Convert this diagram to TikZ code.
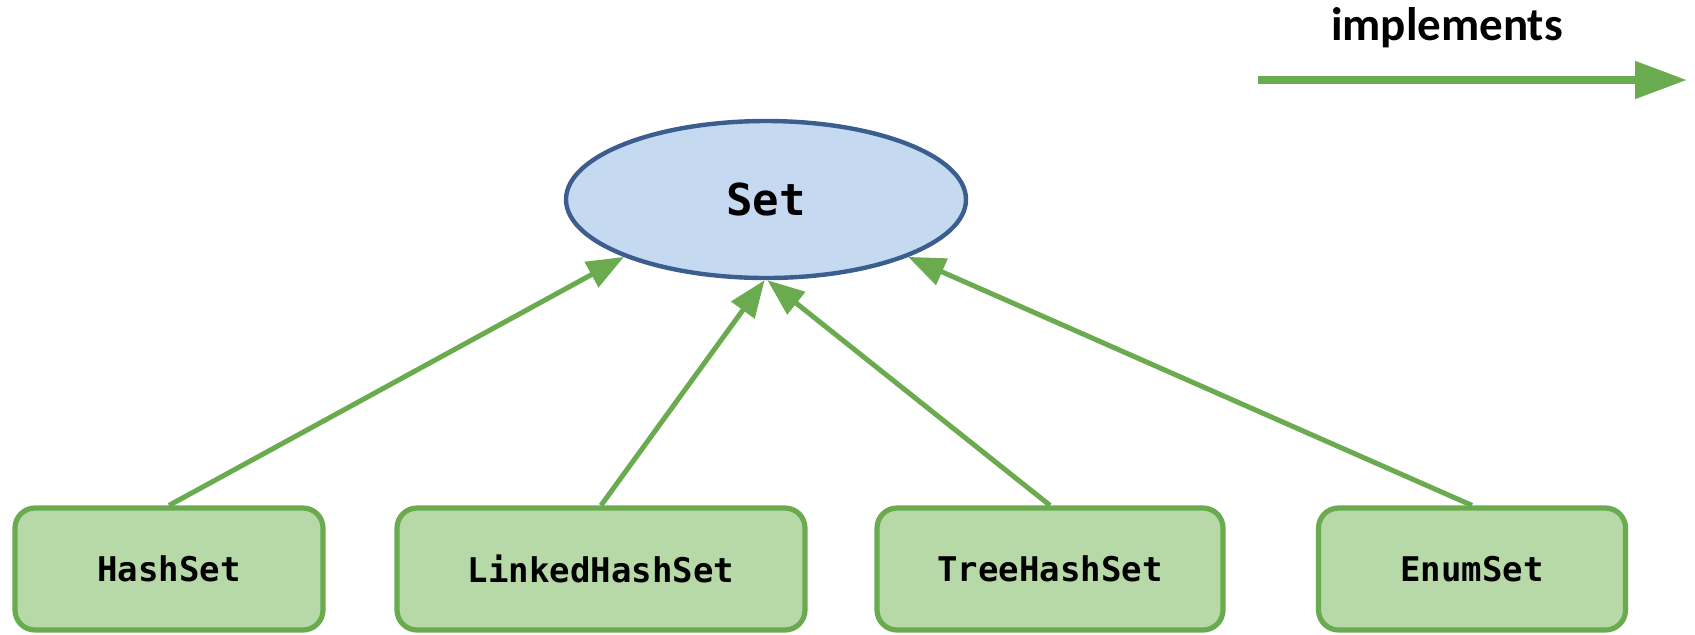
\documentclass[tikz,border=0pt]{standalone}
\usepackage{fontspec}
\setmonofont{DejaVu Sans Mono}
\newfontfamily\legendfont{Carlito}
\usetikzlibrary{arrows.meta,shapes.geometric}
\definecolor{setfill}{HTML}{C5D9F1}
\definecolor{setstroke}{HTML}{3B5E8E}
\definecolor{implfill}{HTML}{B7D9A8}
\definecolor{implstroke}{HTML}{6AAB50}

\begin{document}
\begin{tikzpicture}[
    x=0.5pt, y=-0.5pt,
    lbl/.style={font=\legendfont\bfseries\fontsize{23.5}{28}\selectfont},
    setnode/.style={ellipse, draw=setstroke, fill=setfill, line width=2.2pt,
                    inner sep=0pt, minimum width=200pt, minimum height=78.5pt,
                    font=\ttfamily\bfseries\fontsize{22}{26}\selectfont},
    implcell/.style={draw=implstroke, fill=implfill, line width=2.6pt,
                     rounded corners=10pt, minimum height=61pt, inner sep=0pt,
                     font=\ttfamily\bfseries\fontsize{17}{20}\selectfont},
    flow/.style={-{Triangle[length=18.5pt,width=14pt]}, line width=2.5pt, implstroke},
    legflow/.style={-{Triangle[length=26pt,width=18pt]}, line width=4pt, implstroke},
]
\useasboundingbox (0,0) rectangle (1695,634);

% ---- Legend ------------------------------------------------------------------
\node[lbl] (leglbl) at (1447,28) {implements};
\coordinate (legA) at (1258,80);
\coordinate (legB) at (1687,80);
\draw[legflow] (legA) -- (legB);

% ---- Interface -----------------------------------------------------------------
\node[setnode] (set) at (766,199.5) {Set};

% ---- Implementations -----------------------------------------------------------
\node[implcell, minimum width=154pt] (hash)   at (169,569)  {HashSet};
\node[implcell, minimum width=204pt] (linked) at (601,569)  {LinkedHashSet};
\node[implcell, minimum width=173pt] (tree)   at (1050,569) {TreeHashSet};
\node[implcell, minimum width=153.5pt] (enum) at (1472,569) {EnumSet};

% ---- implements connectors -----------------------------------------------------
\draw[flow] (hash.north)   -- (set.202);
\draw[flow] (linked.north) -- (set.269);
\draw[flow] (tree.north)   -- (set.271);
\draw[flow] (enum.north)   -- (set.338);

\end{tikzpicture}
\end{document}
